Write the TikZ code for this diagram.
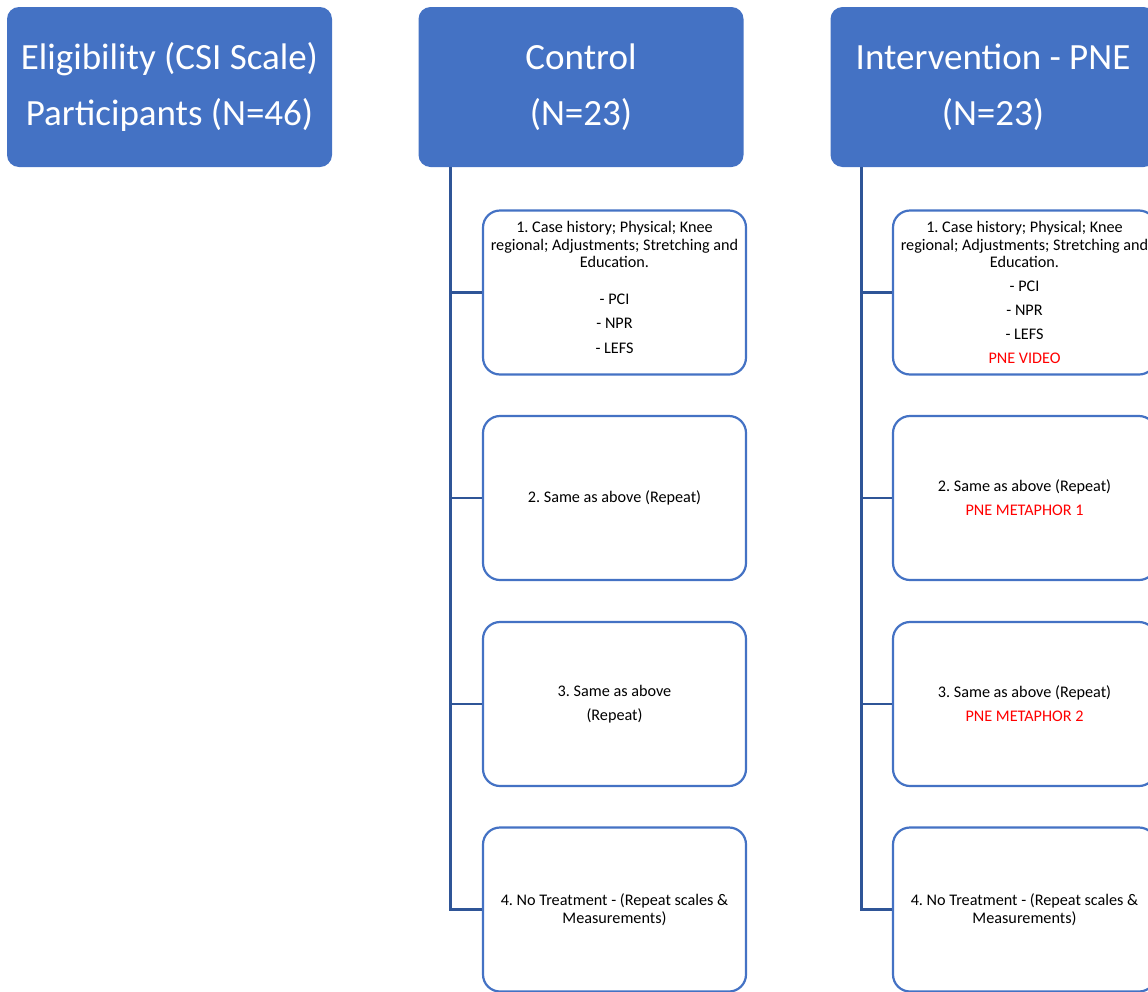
\documentclass[tikz,border=0pt]{standalone}
\usepackage{fontspec}
\setmainfont{Carlito}
\frenchspacing
\usetikzlibrary{positioning}

\definecolor{headblue}{HTML}{4472C4}
\definecolor{linkblue}{HTML}{2F5597}
\definecolor{notered}{HTML}{FF0000}

\begin{document}
\begin{tikzpicture}[x=1pt,y=-1pt,
    head/.style={fill=headblue, rounded corners=12pt, minimum width=325pt, minimum height=160pt,
      text=white, align=center, font=\fontsize{37}{56}\selectfont, inner sep=0pt},
    stage/.style={draw=headblue, line width=2.2pt, fill=white, rounded corners=17pt,
      minimum width=263pt, minimum height=164pt, align=center,
      font=\fontsize{16.2}{17.5}\selectfont, inner sep=0pt},
    link/.style={draw=linkblue, line width=2.4pt}]

    % frame
    \useasboundingbox (0,0) rectangle (1148,991);
    \clip (0,0) rectangle (1148,991);

    % draw headers
    \node[head] (elig) at (169.5,87) {Eligibility (CSI Scale)\\Participants (N=46)};
    \node[head] (ctrl) at (581,87) {Control\\(N=23)};
    \node[head] (intv) at (993,87) {Intervention - PNE\\(N=23)};

    % draw control sessions
    \node[stage] (c1) at (614.5,292.5) {1. Case history; Physical; Knee\\regional; Adjustments; Stretching and\\Education.\\[19pt]
      - PCI\\[7pt] - NPR\\[7pt] - LEFS\\[-7pt]\mbox{}};
    \node[stage] (c2) at (614.5,498) {2. Same as above (Repeat)};
    \node[stage] (c3) at (614.5,704) {3. Same as above\\[6.5pt](Repeat)};
    \node[stage] (c4) at (614.5,909.5) {4. No Treatment - (Repeat scales \&\\Measurements)};

    % draw intervention sessions
    \node[stage] (i1) at (1024.5,292.5) {1. Case history; Physical; Knee\\regional; Adjustments; Stretching and\\Education.\\[6.5pt]
      - PCI\\[6.5pt] - NPR\\[6.5pt] - LEFS\\[6.5pt] \textcolor{notered}{PNE VIDEO}};
    \node[stage] (i2) at (1024.5,498) {2. Same as above (Repeat)\\[6.5pt]\textcolor{notered}{PNE METAPHOR 1}};
    \node[stage] (i3) at (1024.5,704) {3. Same as above (Repeat)\\[6.5pt]\textcolor{notered}{PNE METAPHOR 2}};
    \node[stage] (i4) at (1024.5,909.5) {4. No Treatment - (Repeat scales \&\\Measurements)};

    % draw connectors
    \coordinate (ctrltrunk) at ([xshift=32pt]ctrl.south west);
    \coordinate (intvtrunk) at ([xshift=31pt]intv.south west);
    \foreach \k in {1,...,4} {
      \draw[link] (ctrltrunk) |- (c\k.west);
      \draw[link] (intvtrunk) |- (i\k.west);
    }
  \end{tikzpicture}
\end{document}
